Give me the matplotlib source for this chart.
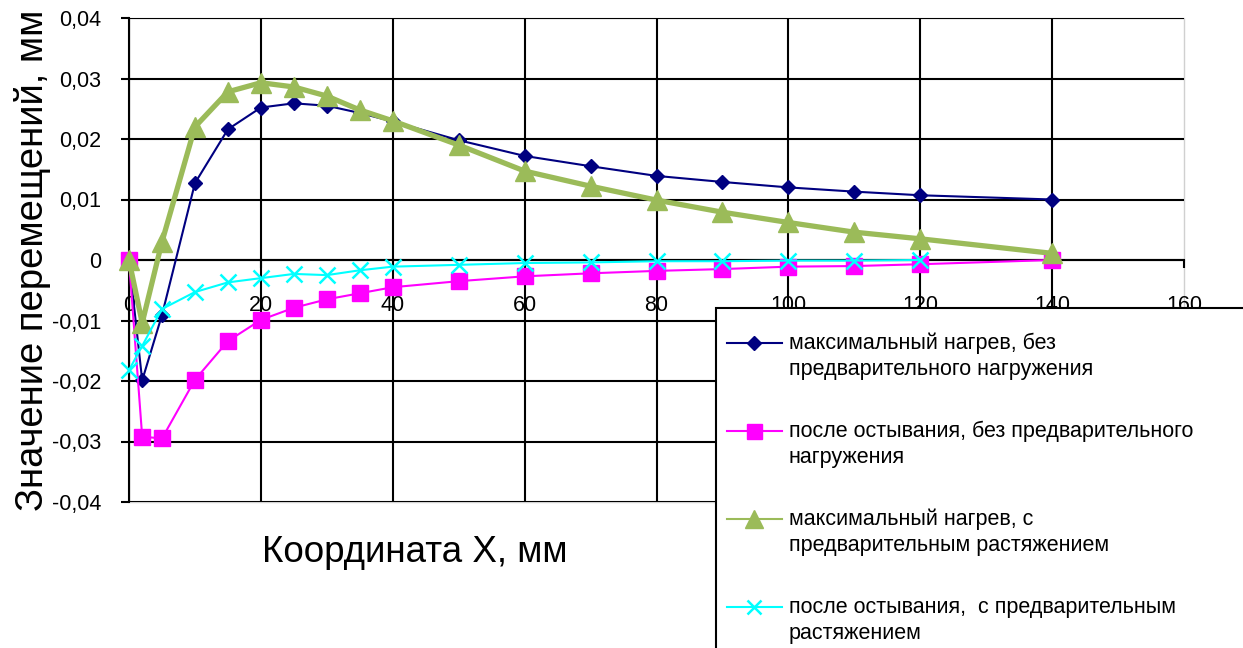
import matplotlib
matplotlib.use('Agg')
import matplotlib.pyplot as plt
from matplotlib.lines import Line2D
from matplotlib.patches import Rectangle
from matplotlib.ticker import FuncFormatter

plt.rcParams['font.family'] = ['Liberation Sans', 'DejaVu Sans']

# Coordinates along the specimen, mm
x_main = [0, 2, 5, 10, 15, 20, 25, 30, 35, 40, 50, 60, 70, 80, 90, 100, 110, 120, 140]
x_cool_tension = [0, 2, 5, 10, 15, 20, 25, 30, 35, 40, 50, 60, 70, 80, 90, 100, 110, 120]

# Displacements, mm
heat_no_load = [0, -0.0199, -0.0091, 0.0127, 0.0216, 0.0252, 0.0259, 0.0255, 0.0243, 0.0229,
                0.0198, 0.0172, 0.0155, 0.0139, 0.0129, 0.0120, 0.0113, 0.0107, 0.0100]
cool_no_load = [0, -0.0292, -0.0295, -0.0198, -0.0134, -0.0099, -0.0079, -0.0065, -0.0055, -0.0045,
                -0.0035, -0.0027, -0.0022, -0.0018, -0.0015, -0.0011, -0.0010, -0.0007, 0.0000]
heat_tension = [0, -0.0104, 0.0030, 0.0220, 0.0278, 0.0293, 0.0286, 0.0271, 0.0248, 0.0230,
                0.0190, 0.0147, 0.0122, 0.0099, 0.0079, 0.0062, 0.0046, 0.0035, 0.0011]
cool_tension = [-0.0182, -0.0142, -0.0081, -0.0053, -0.0037, -0.0030, -0.0023, -0.0025, -0.0017,
                -0.0011, -0.0008, -0.0005, -0.0004, -0.0002, -0.0002, -0.0001, -0.0001, 0.0000]

labels = [
    ['максимальный нагрев, без', 'предварительного нагружения'],
    ['после остывания, без предварительного', 'нагружения'],
    ['максимальный нагрев, с', 'предварительным растяжением'],
    ['после остывания,  с предварительным', 'растяжением'],
]

W, H = 1243, 648
fig = plt.figure(figsize=(W / 100, H / 100), dpi=100)
ax = fig.add_axes([129 / W, 1 - 502 / H, (1184 - 129) / W, (502 - 18) / H])

styles = [
    dict(color='#000080', lw=1.5, marker='D', ms=7.5, mec='#000080'),
    dict(color='#FF00FF', lw=1.5, marker='s', ms=12, mec='#FF00FF'),
    dict(color='#9BBB59', lw=3.8, marker='^', ms=14, mec='#9BBB59'),
    dict(color='#00FFFF', lw=1.5, marker='x', ms=11, mew=1.8, mec='#00FFFF'),
]
series = [(x_main, heat_no_load), (x_main, cool_no_load), (x_main, heat_tension),
          (x_cool_tension, cool_tension)]
for (xs, ys), st in zip(series, styles):
    ax.plot(xs, ys, clip_on=False, zorder=3, **st)

ax.set_xlim(0, 160)
ax.set_ylim(-0.04, 0.04)
ax.set_xticks(range(0, 161, 20))
ax.set_yticks([-0.04, -0.03, -0.02, -0.01, 0, 0.01, 0.02, 0.03, 0.04])


def comma_fmt(v, pos):
    if abs(v) < 1e-9:
        return '0'
    return f'{v:.2f}'.replace('.', ',')


ax.yaxis.set_major_formatter(FuncFormatter(comma_fmt))

# axes cross at zero
ax.spines['bottom'].set_position(('data', 0))
ax.spines['top'].set_visible(False)
ax.spines['right'].set_visible(False)
for s in ('left', 'bottom'):
    ax.spines[s].set_linewidth(1.5)
    ax.spines[s].set_zorder(2)
ax.patch.set_edgecolor('#D0D0D0')
ax.patch.set_linewidth(1.0)

ax.tick_params(axis='both', direction='out', length=6, width=1.5, labelsize=15.5)
ax.tick_params(axis='x', pad=19)
ax.tick_params(axis='y', pad=14)

ax.grid(True, color='black', lw=1.5, zorder=1)
ax.set_axisbelow(True)
for t in ax.xaxis.get_major_ticks()[-1:]:
    t.gridline.set_visible(False)
for t in ax.yaxis.get_major_ticks():
    if abs(t.get_loc()) > 0.035:
        t.gridline.set_visible(False)

fig.text(33 / W, 1 - 260 / H, 'Значение перемещений, мм', rotation=90,
         ha='center', va='center', fontsize=27.5, zorder=5)
fig.text(415 / W, 1 - 553 / H, 'Координата Х, мм', ha='center', va='center', fontsize=26.5)

# legend box running off the figure edge
fig.add_artist(Rectangle((716 / W, -0.05), 0.5, 1 - 308 / H + 0.05, transform=fig.transFigure,
                         facecolor='white', edgecolor='black', lw=1.5, zorder=10))
for i, (lab, st) in enumerate(zip(labels, styles)):
    y = 1 - (343 + i * 88) / H
    fig.add_artist(Line2D([727 / W, 782 / W], [y, y], transform=fig.transFigure,
                          color=st['color'], lw=1.5, zorder=11))
    fig.add_artist(Line2D([754 / W], [y], transform=fig.transFigure, color=st['color'],
                          marker=st['marker'], ms=st['ms'] * 0.9, mew=st.get('mew', 1),
                          mec=st['color'], zorder=12))
    fig.text(789 / W, y, lab[0], va='center', ha='left', fontsize=15.5, zorder=12)
    fig.text(789 / W, y - 26 / H, lab[1], va='center', ha='left', fontsize=15.5, zorder=12)

fig.savefig('out.png', dpi=100)
